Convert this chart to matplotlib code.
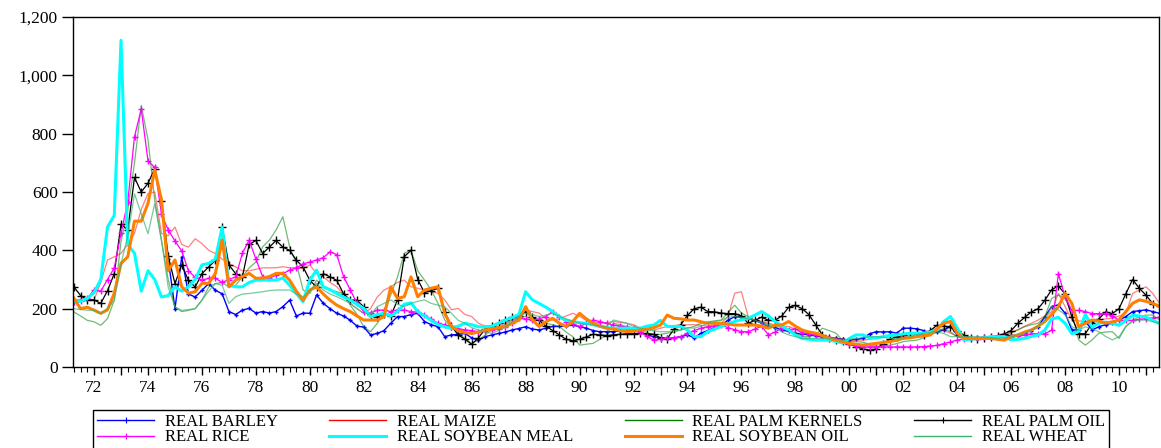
import numpy as np
import matplotlib
matplotlib.use("Agg")
import matplotlib.pyplot as plt
from matplotlib.lines import Line2D
from matplotlib.ticker import MultipleLocator, FuncFormatter

plt.rcParams['font.family'] = ['Liberation Serif', 'DejaVu Serif']

# quarterly observations, 1971Q2 .. 2011Q3
quarters = np.arange(1971.25, 2011.5 + 0.01, 0.25)

nan = np.nan
barley = [nan, nan, nan,
          nan, nan, nan, nan, nan, nan, nan, nan, nan, nan, nan, 370,
          200, 377, 250, 240, 263, 286, 263, 251, 190, 180, 195, 201, 185, 190, 185, 190,
          207, 229, 175, 185, 184, 247, 218, 200, 184, 175, 160, 140, 137, 110, 115, 125,
          150, 173, 173, 180, 184, 156, 145, 138, 104, 110, 112, 115, 100, 92, 104, 110,
          115, 120, 127, 132, 138, 130, 127, 133, 139, 139, 140, 144, 138, 133, 125, 121,
          121, 121, 124, 127, 127, 120, 110, 104, 100, 98, 100, 104, 110, 100, 116, 125,
          135, 144, 160, 173, 170, 167, 160, 150, 139, 135, 127, 122, 116, 113, 110, 107,
          104, 100, 98, 95, 92, 95, 98, 114, 121, 120, 121, 116, 133, 133, 131, 125,
          116, 120, 127, 139, 110, 98, 98, 98, 100, 104, 104, 106, 108, 110, 116, 125,
          138, 173, 207, 213, 184, 127, 127, 156, 127, 138, 145, 150, 160, 173, 190, 193,
          196, 190, 184]
maize = [230, 232, 235,
         230, 290, 367, 378, 390, 420, 458, 540, 595, 600, 458, 450,
         480, 420, 411, 440, 423, 400, 389, 370, 354, 343, 330, 330, 335, 340, 340, 340,
         344, 340, 340, 338, 350, 320, 309, 290, 275, 250, 218, 200, 184, 200, 240, 264,
         275, 290, 298, 275, 270, 264, 258, 253, 230, 196, 201, 180, 173, 150, 140, 138,
         145, 150, 165, 178, 196, 190, 185, 165, 161, 165, 175, 184, 173, 160, 156, 150,
         152, 156, 153, 150, 145, 133, 130, 127, 133, 139, 142, 144, 145, 145, 143, 140,
         145, 150, 173, 253, 258, 173, 160, 156, 150, 144, 140, 139, 130, 121, 116, 110,
         108, 104, 98, 95, 92, 92, 92, 95, 98, 104, 104, 104, 104, 108, 112, 116,
         125, 133, 125, 116, 105, 98, 98, 98, 100, 102, 104, 110, 120, 127, 140, 150,
         161, 175, 190, 252, 207, 161, 158, 156, 160, 161, 165, 167, 175, 184, 252, 264,
         275, 252, 218]
palm_kernels = [189, 175, 160,
                155, 143, 166, 229, 430, 537, 700, 897, 780, 571, 434, 300,
                206, 190, 194, 200, 229, 274, 286, 290, 274, 280, 309, 340, 360, 412, 435, 470,
                515, 412, 355, 264, 252, 298, 275, 264, 258, 252, 212, 180, 138, 121, 150, 184,
                247, 309, 390, 401, 330, 298, 264, 218, 161, 138, 115, 98, 81, 92, 110, 127,
                138, 145, 161, 168, 173, 165, 161, 150, 145, 139, 120, 104, 75, 78, 81, 95,
                110, 150, 145, 139, 133, 127, 118, 110, 112, 116, 120, 127, 133, 139, 150, 155,
                158, 161, 185, 212, 185, 173, 160, 156, 145, 140, 135, 127, 118, 104, 104, 110,
                133, 125, 116, 92, 87, 87, 85, 78, 70, 72, 75, 80, 87, 90, 92, 100,
                110, 120, 133, 120, 104, 98, 98, 98, 98, 98, 98, 105, 116, 128, 138, 145,
                150, 173, 235, 247, 235, 184, 93, 75, 93, 116, 120, 121, 98, 138, 160, 173,
                178, 178, 161]
palm_oil = [275, 245, 230,
            230, 218, 262, 320, 490, 470, 650, 600, 630, 680, 570, 380,
            286, 350, 297, 274, 320, 343, 366, 480, 350, 320, 309, 420, 434, 389, 411, 434,
            411, 400, 366, 343, 297, 274, 320, 309, 297, 251, 229, 229, 206, 177, 171, 183,
            175, 230, 378, 400, 300, 255, 262, 270, 190, 140, 110, 95, 78, 100, 130, 140,
            150, 160, 170, 175, 190, 170, 160, 140, 125, 110, 95, 90, 95, 103, 112, 110,
            108, 110, 112, 114, 114, 115, 114, 112, 100, 97, 130, 145, 177, 200, 205, 190,
            189, 185, 183, 183, 175, 150, 160, 171, 160, 161, 175, 205, 211, 200, 180, 145,
            110, 100, 92, 90, 80, 70, 62, 58, 62, 80, 95, 103, 110, 118, 115, 110,
            125, 143, 140, 137, 125, 109, 100, 97, 98, 103, 108, 114, 125, 150, 170, 189,
            200, 229, 265, 278, 250, 171, 114, 114, 150, 165, 189, 183, 200, 251, 300, 270,
            246, 217, 210]
rice = [223, 225, 235,
        265, 260, 300, 340, 458, 566, 790, 884, 707, 684, 524, 470,
        432, 398, 330, 307, 298, 304, 304, 290, 300, 309, 390, 435, 370, 310, 304, 315,
        320, 332, 340, 354, 360, 367, 375, 395, 385, 310, 264, 218, 190, 184, 195, 195,
        190, 196, 195, 190, 188, 178, 165, 150, 145, 138, 132, 127, 125, 121, 125, 127,
        132, 138, 150, 167, 165, 161, 165, 173, 190, 170, 156, 148, 139, 150, 161, 156,
        150, 144, 140, 136, 133, 121, 105, 92, 95, 98, 100, 104, 116, 125, 133, 138,
        140, 144, 135, 128, 121, 121, 130, 140, 110, 120, 133, 128, 131, 116, 114, 110,
        104, 98, 92, 88, 80, 72, 69, 69, 69, 69, 69, 69, 69, 69, 69, 70,
        72, 74, 80, 86, 92, 97, 98, 100, 102, 103, 103, 103, 103, 106, 110, 114,
        114, 114, 126, 320, 240, 194, 194, 190, 183, 183, 183, 175, 160, 160, 160, 163,
        166, 168, 171]
soybean_meal = [225, 225, 235,
                255, 300, 480, 520, 1120, 420, 390, 260, 330, 300, 240, 245,
                275, 260, 275, 300, 350, 355, 370, 480, 280, 275, 275, 290, 298, 298, 298, 298,
                305, 280, 252, 224, 298, 332, 275, 265, 252, 240, 229, 215, 201, 172, 180, 184,
                175, 190, 215, 220, 190, 175, 160, 145, 138, 133, 140, 150, 145, 138, 138, 140,
                150, 161, 170, 180, 258, 230, 218, 205, 190, 173, 160, 156, 152, 150, 145, 139,
                135, 133, 133, 133, 133, 133, 140, 144, 160, 139, 139, 139, 127, 104, 104, 121,
                130, 139, 148, 156, 162, 167, 178, 190, 175, 156, 140, 127, 110, 98, 95, 92,
                92, 92, 88, 82, 98, 110, 110, 100, 100, 104, 108, 110, 113, 116, 116, 116,
                120, 127, 156, 173, 133, 92, 96, 98, 100, 104, 104, 104, 93, 95, 98, 105,
                110, 127, 165, 170, 150, 114, 122, 180, 137, 150, 154, 150, 143, 160, 177, 175,
                171, 160, 149]
soybean_oil = [236, 200, 205,
               195, 184, 196, 253, 355, 378, 500, 500, 561, 676, 573, 330,
               367, 275, 253, 258, 287, 287, 321, 436, 275, 298, 310, 321, 304, 305, 310, 321,
               321, 298, 260, 229, 264, 275, 250, 229, 212, 200, 190, 175, 161, 161, 161, 173,
               275, 235, 241, 309, 241, 264, 270, 275, 184, 138, 125, 118, 115, 120, 127, 130,
               135, 138, 150, 161, 207, 161, 139, 155, 167, 150, 139, 156, 184, 165, 150, 140,
               133, 130, 125, 121, 123, 127, 130, 135, 144, 178, 167, 165, 161, 161, 155, 150,
               150, 150, 147, 144, 144, 144, 144, 140, 133, 144, 144, 156, 140, 127, 120, 116,
               108, 98, 92, 87, 81, 78, 75, 78, 81, 84, 87, 92, 98, 100, 104, 107,
               110, 130, 150, 156, 116, 98, 98, 98, 98, 98, 95, 92, 104, 110, 120, 127,
               140, 156, 180, 207, 252, 218, 138, 150, 161, 158, 150, 155, 161, 190, 218, 230,
               225, 218, 207]
wheat = [200, 197, 195,
         194, 183, 200, 229, 354, 450, 594, 526, 457, 560, 434, 274,
         206, 194, 197, 200, 229, 260, 286, 280, 218, 241, 250, 252, 255, 258, 262, 264,
         264, 264, 250, 241, 260, 287, 264, 250, 241, 230, 218, 200, 184, 180, 207, 218,
         230, 215, 207, 218, 225, 230, 218, 212, 207, 184, 160, 150, 135, 127, 120, 115,
         125, 138, 155, 173, 184, 180, 173, 178, 184, 173, 165, 156, 150, 148, 144, 141,
         139, 161, 156, 150, 139, 133, 127, 124, 121, 121, 124, 127, 135, 133, 140, 150,
         156, 160, 170, 173, 170, 165, 161, 150, 140, 133, 120, 110, 104, 98, 98, 98,
         98, 98, 95, 92, 95, 98, 101, 104, 104, 102, 98, 98, 100, 104, 110, 116,
         118, 121, 115, 104, 104, 104, 104, 104, 102, 100, 98, 100, 104, 110, 116, 127,
         140, 161, 207, 196, 180, 138, 127, 138, 130, 121, 105, 93, 104, 140, 156, 161,
         161, 155, 150]

# label, values, colour, width, alpha, marker, marker size
series = [
    ("REAL BARLEY", barley, "#0000ff", 1.0, 1.0, "+", 2.5),
    ("REAL MAIZE", maize, "#ff0000", 0.9, 0.5, None, 0),
    ("REAL PALM KERNELS", palm_kernels, "#008000", 0.9, 0.55, None, 0),
    ("REAL PALM OIL", palm_oil, "#000000", 0.9, 1.0, "+", 6),
    ("REAL RICE", rice, "#ff00ff", 0.9, 1.0, "+", 5),
    ("REAL SOYBEAN MEAL", soybean_meal, "#00ffff", 2.2, 1.0, None, 0),
    ("REAL SOYBEAN OIL", soybean_oil, "#ff8000", 2.2, 1.0, None, 0),
    ("REAL WHEAT", wheat, "#3cb371", 0.9, 0.7, None, 0),
]

fig = plt.figure(figsize=(11.61, 4.48), dpi=100)
ax = fig.add_axes([73 / 1161, 1 - 367 / 448, (1159 - 73) / 1161, 350 / 448])

handles = []
for label, vals, color, lw, alpha, marker, ms in series:
    ax.plot(quarters, vals, color=color, lw=lw, alpha=alpha,
            marker=marker, ms=ms, mew=1.0)
    handles.append(Line2D([], [], color=color, lw=lw if lw > 1 else 1.0,
                          marker=marker if marker else None, ms=4, mew=0.8,
                          label=label))

ax.set_xlim(1971.22, 2011.48)
ax.set_ylim(0, 1200)

ax.yaxis.set_major_locator(MultipleLocator(200))
ax.yaxis.set_major_formatter(FuncFormatter(lambda v, p: f"{int(v):,}"))
ax.xaxis.set_major_locator(MultipleLocator(1))
ax.xaxis.set_minor_locator(MultipleLocator(0.25))
ax.xaxis.set_major_formatter(
    FuncFormatter(lambda v, p: f"{int(round(v)) % 100:02d}" if int(round(v)) % 2 == 0 else ""))

ax.tick_params(axis="y", direction="out", length=8, width=1, pad=3, labelsize=12.5)
ax.tick_params(axis="x", which="major", direction="out", length=6, width=1, pad=3, labelsize=12.5)
ax.tick_params(axis="x", which="minor", direction="out", length=3.5, width=0.8)
for s in ax.spines.values():
    s.set_linewidth(1.0)

# legend laid out row by row, 4 columns
order = [0, 4, 1, 5, 2, 6, 3, 7]
leg = fig.legend([handles[i] for i in order], [series[i][0] for i in order],
                 ncol=4, loc="upper left", bbox_to_anchor=(93 / 1161, 1 - 410 / 448),
                 borderaxespad=0.0, fontsize=12, frameon=True, fancybox=False,
                 framealpha=1, edgecolor="black", handlelength=3.4, handletextpad=0.65,
                 columnspacing=3.1, labelspacing=-0.05, borderpad=0.25)
leg.get_frame().set_linewidth(1.0)

fig.savefig("out.png", dpi=100)
